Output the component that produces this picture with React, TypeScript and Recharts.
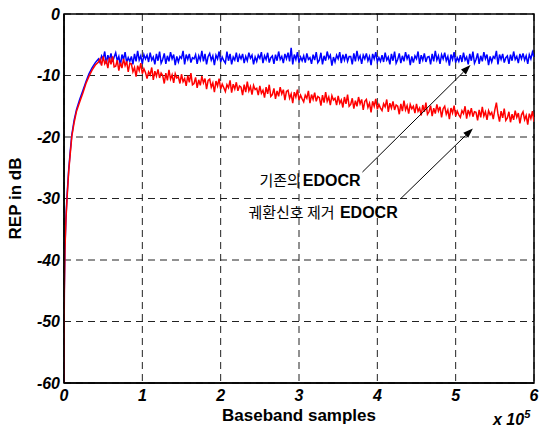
import React from 'react';
import {
    LineChart, Line, XAxis, YAxis, CartesianGrid, ReferenceLine, ReferenceArea, ReferenceDot,
} from 'recharts';

// x positions in units of 1e5 baseband samples
const samples = [
    0, 0.004, 0.012, 0.025, 0.04, 0.06, 0.08, 0.1, 0.13, 0.16, 0.2, 0.24, 0.28, 0.32, 0.36, 0.4, 0.44,
    0.46, 0.48, 0.5, 0.52, 0.54, 0.56, 0.58, 0.6, 0.62, 0.64,
    0.66, 0.68, 0.7, 0.72, 0.74, 0.76, 0.78, 0.8, 0.82, 0.84,
    0.86, 0.88, 0.9, 0.92, 0.94, 0.96, 0.98, 1.0, 1.02, 1.04,
    1.06, 1.08, 1.1, 1.12, 1.14, 1.16, 1.18, 1.2, 1.22, 1.24,
    1.26, 1.28, 1.3, 1.32, 1.34, 1.36, 1.38, 1.4, 1.42, 1.44,
    1.46, 1.48, 1.5, 1.52, 1.54, 1.56, 1.58, 1.6, 1.62, 1.64,
    1.66, 1.68, 1.7, 1.72, 1.74, 1.76, 1.78, 1.8, 1.82, 1.84,
    1.86, 1.88, 1.9, 1.92, 1.94, 1.96, 1.98, 2.0, 2.02, 2.04,
    2.06, 2.08, 2.1, 2.12, 2.14, 2.16, 2.18, 2.2, 2.22, 2.24,
    2.26, 2.28, 2.3, 2.32, 2.34, 2.36, 2.38, 2.4, 2.42, 2.44,
    2.46, 2.48, 2.5, 2.52, 2.54, 2.56, 2.58, 2.6, 2.62, 2.64,
    2.66, 2.68, 2.7, 2.72, 2.74, 2.76, 2.78, 2.8, 2.82, 2.84,
    2.86, 2.88, 2.9, 2.92, 2.94, 2.96, 2.98, 3.0, 3.02, 3.04,
    3.06, 3.08, 3.1, 3.12, 3.14, 3.16, 3.18, 3.2, 3.22, 3.24,
    3.26, 3.28, 3.3, 3.32, 3.34, 3.36, 3.38, 3.4, 3.42, 3.44,
    3.46, 3.48, 3.5, 3.52, 3.54, 3.56, 3.58, 3.6, 3.62, 3.64,
    3.66, 3.68, 3.7, 3.72, 3.74, 3.76, 3.78, 3.8, 3.82, 3.84,
    3.86, 3.88, 3.9, 3.92, 3.94, 3.96, 3.98, 4.0, 4.02, 4.04,
    4.06, 4.08, 4.1, 4.12, 4.14, 4.16, 4.18, 4.2, 4.22, 4.24,
    4.26, 4.28, 4.3, 4.32, 4.34, 4.36, 4.38, 4.4, 4.42, 4.44,
    4.46, 4.48, 4.5, 4.52, 4.54, 4.56, 4.58, 4.6, 4.62, 4.64,
    4.66, 4.68, 4.7, 4.72, 4.74, 4.76, 4.78, 4.8, 4.82, 4.84,
    4.86, 4.88, 4.9, 4.92, 4.94, 4.96, 4.98, 5.0, 5.02, 5.04,
    5.06, 5.08, 5.1, 5.12, 5.14, 5.16, 5.18, 5.2, 5.22, 5.24,
    5.26, 5.28, 5.3, 5.32, 5.34, 5.36, 5.38, 5.4, 5.42, 5.44,
    5.46, 5.48, 5.5, 5.52, 5.54, 5.56, 5.58, 5.6, 5.62, 5.64,
    5.66, 5.68, 5.7, 5.72, 5.74, 5.76, 5.78, 5.8, 5.82, 5.84,
    5.86, 5.88, 5.9, 5.92, 5.94, 5.96, 5.98, 6.0,
];

// 기존의 EDOCR (blue)
const existing = [
    -60, -45, -38, -33, -29.3, -25.3, -22.3, -19.6, -17.2, -15.5, -13.9, -12.5, -11.0, -9.7, -8.7, -7.9, -7.3,
    -7.9, -6.8, -7.3, -6.1, -8.1, -6.7, -7.5, -6.4, -7.8, -7.0,
    -6.3, -7.6, -6.9, -8.4, -6.6, -7.4, -6.2, -7.9, -7.1, -7.7,
    -6.9, -8.2, -6.5, -7.7, -6.0, -7.5, -6.8, -8.1, -6.6, -7.3,
    -6.7, -7.8, -6.3, -7.5, -7.0, -8.2, -6.5, -7.6, -6.1, -8.0,
    -7.4, -6.4, -8.1, -6.8, -7.7, -6.2, -7.3, -6.6, -8.3, -6.9,
    -7.8, -6.9, -7.2, -6.0, -8.2, -6.6, -7.4, -6.5, -7.9, -7.1,
    -7.3, -6.6, -8.1, -6.8, -7.5, -6.0, -7.7, -6.5, -8.2, -6.9,
    -6.4, -7.5, -6.8, -8.3, -6.7, -7.3, -6.1, -7.8, -7.0, -7.6,
    -8.0, -6.1, -7.6, -6.5, -8.2, -7.0, -7.5, -6.3, -7.8, -6.7,
    -7.3, -6.5, -8.0, -6.9, -7.6, -6.3, -7.2, -6.7, -8.2, -7.0,
    -7.7, -6.7, -7.2, -6.2, -8.0, -6.8, -7.4, -6.3, -7.9, -7.1,
    -6.8, -8.1, -6.6, -7.6, -6.1, -7.4, -6.9, -8.0, -6.5, -7.3,
    -6.3, -7.7, -5.5, -8.2, -6.6, -7.4, -6.2, -7.9, -7.0, -7.6,
    -6.8, -7.9, -6.4, -7.4, -7.1, -8.1, -6.6, -7.5, -6.2, -7.9,
    -7.5, -6.3, -8.2, -6.8, -7.6, -6.1, -7.2, -6.7, -8.4, -7.0,
    -7.8, -6.7, -7.3, -6.2, -8.0, -6.6, -7.5, -6.5, -7.7, -6.9,
    -6.9, -8.2, -6.4, -7.7, -6.0, -7.4, -6.8, -8.1, -6.7, -7.3,
    -6.4, -7.6, -6.9, -8.3, -6.5, -7.3, -6.2, -7.8, -7.1, -7.7,
    -6.7, -7.8, -6.3, -7.5, -7.0, -8.2, -6.5, -7.6, -6.1, -8.0,
    -7.4, -6.4, -8.0, -6.8, -7.7, -6.2, -7.3, -6.6, -8.3, -6.9,
    -7.9, -6.8, -7.3, -6.1, -8.1, -6.7, -7.5, -6.4, -7.8, -7.0,
    -6.9, -8.2, -6.5, -7.7, -6.0, -7.5, -6.8, -8.1, -6.6, -7.3,
    -6.3, -7.6, -6.9, -8.4, -6.6, -7.4, -6.2, -7.9, -7.1, -7.7,
    -6.7, -7.8, -6.3, -7.5, -7.0, -8.2, -6.5, -7.6, -6.1, -8.0,
    -7.4, -6.4, -8.1, -6.8, -7.7, -6.2, -7.3, -6.6, -8.3, -6.9,
    -7.8, -6.9, -7.2, -6.0, -8.2, -6.6, -7.4, -6.5, -7.9, -7.1,
    -6.8, -8.1, -6.6, -7.6, -6.1, -7.4, -6.9, -8.0, -6.5, -7.3,
    -6.4, -7.5, -6.8, -8.1, -6.6, -7.3, -6.2, -7.0,
];

// 궤환신호 제거 EDOCR (red)
const removed = [
    -60, -45.5, -38.5, -33.4, -29.8, -25.6, -22.7, -19.9, -17.6, -15.8, -14.3, -12.9, -11.3, -10.1, -9.1, -8.3, -7.8,
    -7.3, -8.4, -6.9, -8.1, -7.6, -8.8, -7.1, -8.2, -6.9, -8.6,
    -8.5, -7.5, -9.2, -7.9, -8.8, -7.3, -8.4, -7.7, -9.4, -8.0,
    -8.1, -9.4, -8.7, -10.2, -8.4, -9.2, -8.0, -9.7, -8.9, -9.5,
    -10.5, -9.4, -9.9, -8.7, -10.7, -9.3, -10.1, -9.0, -10.4, -9.6,
    -10.0, -11.3, -9.6, -10.8, -9.1, -10.6, -9.9, -11.2, -9.7, -10.4,
    -10.2, -11.3, -9.8, -11.0, -10.5, -11.7, -10.0, -11.1, -9.6, -11.5,
    -11.3, -10.3, -12.0, -10.7, -11.6, -10.1, -11.2, -10.5, -12.2, -10.8,
    -10.6, -11.9, -11.2, -12.7, -10.9, -11.7, -10.5, -12.2, -11.4, -12.0,
    -12.6, -11.5, -12.0, -10.8, -12.8, -11.4, -12.2, -11.1, -12.5, -11.7,
    -11.9, -13.2, -11.5, -12.7, -11.0, -12.5, -11.8, -13.1, -11.6, -12.3,
    -12.1, -13.2, -11.7, -12.9, -12.4, -13.6, -11.9, -13.0, -11.5, -13.4,
    -13.1, -12.1, -13.8, -12.5, -13.4, -11.9, -13.0, -12.3, -14.0, -12.6,
    -12.4, -13.7, -13.0, -14.5, -12.7, -13.5, -12.3, -14.0, -13.2, -13.8,
    -14.3, -13.2, -13.7, -12.5, -14.5, -13.1, -13.9, -12.8, -14.2, -13.4,
    -13.6, -14.9, -13.2, -14.4, -12.7, -14.2, -13.5, -14.8, -13.3, -14.0,
    -13.7, -14.8, -13.3, -14.5, -14.0, -15.2, -13.5, -14.6, -13.1, -15.0,
    -14.7, -13.7, -15.4, -14.1, -15.0, -13.5, -14.6, -13.9, -15.6, -14.2,
    -13.9, -15.2, -14.5, -16.0, -14.2, -15.0, -13.8, -15.5, -14.7, -15.3,
    -15.7, -14.6, -15.1, -13.9, -15.9, -14.5, -15.3, -14.2, -15.6, -14.8,
    -15.0, -16.3, -14.6, -15.8, -14.1, -15.6, -14.9, -16.2, -14.7, -15.4,
    -15.0, -16.1, -14.6, -15.8, -15.3, -16.5, -14.8, -15.9, -14.4, -16.3,
    -15.9, -14.9, -16.6, -15.3, -16.2, -14.7, -15.8, -15.1, -16.8, -15.4,
    -15.0, -16.3, -15.6, -17.1, -15.3, -16.1, -14.9, -16.6, -15.8, -16.4,
    -16.8, -15.7, -16.2, -15.0, -17.0, -15.6, -16.4, -15.3, -16.7, -15.9,
    -16.0, -17.3, -15.6, -16.8, -15.1, -16.6, -15.9, -17.2, -15.7, -16.4,
    -16.0, -17.1, -15.6, -14.4, -16.3, -17.5, -15.8, -16.9, -15.4, -17.3,
    -16.9, -15.9, -17.6, -16.3, -17.2, -15.7, -16.8, -16.1, -17.8, -16.4,
    -15.9, -17.2, -16.5, -18.0, -16.2, -17.0, -15.8, -17.5,
];

const xTicks = [0, 1, 2, 3, 4, 5, 6];
const yTicks = [-60, -50, -40, -30, -20, -10, 0];

const data = samples.map((x, i) => ({ x, existing: existing[i], removed: removed[i] }));

const FONT = '"Liberation Sans", Arial, sans-serif';
const KFONT = '"Noto Sans CJK KR", "Liberation Sans", sans-serif';

const tickStyle = { fontSize: 16, fontWeight: 700, fontStyle: 'italic', fill: '#000', fontFamily: FONT };

const arrowShape = (props: any) => {
    const { x1, y1, x2, y2 } = props;
    const ang = Math.atan2(y2 - y1, x2 - x1);
    const len = 10, half = 3.5;
    const bx = x2 - len * Math.cos(ang), by = y2 - len * Math.sin(ang);
    const p1 = `${bx + half * Math.sin(ang)},${by - half * Math.cos(ang)}`;
    const p2 = `${bx - half * Math.sin(ang)},${by + half * Math.cos(ang)}`;
    return (
        <g>
            <line x1={x1} y1={y1} x2={bx} y2={by} stroke="#000" strokeWidth={1} />
            <polygon points={`${x2},${y2} ${p1} ${p2}`} fill="#000" />
        </g>
    );
};

const noteLabel = (korean: string) => (props: any) => {
    const { viewBox } = props;
    return (
        <text x={viewBox.x} y={viewBox.y} textAnchor="end" fill="#000">
            <tspan fontFamily={KFONT} fontSize={15}>{korean}</tspan>
            <tspan fontFamily={FONT} fontSize={16} fontWeight={700} dx={2}>EDOCR</tspan>
        </text>
    );
};

const App: React.FC = () => (
    <div style={{ position: 'absolute', left: 0, top: 0, width: 539, height: 430, background: '#fff' }}>
        <LineChart width={539} height={430} data={data} margin={{ top: 14, right: 5, left: 0, bottom: 0 }}>
            <CartesianGrid stroke="#222" strokeDasharray="7 5" />
            <XAxis
                dataKey="x" type="number" domain={[0, 6]} ticks={xTicks} allowDataOverflow
                height={47} tickSize={0} tickMargin={7} tick={tickStyle}
                axisLine={{ stroke: '#000', strokeWidth: 1.5 }}
                label={{ value: 'Baseband samples', position: 'insideBottom', offset: 9, fontSize: 17, fontWeight: 700, fill: '#000', fontFamily: FONT }}
            />
            <YAxis
                type="number" domain={[-60, 0]} ticks={yTicks} allowDataOverflow
                width={64} tickSize={0} tickMargin={4} tick={tickStyle}
                axisLine={{ stroke: '#000', strokeWidth: 1.5 }}
                label={{ value: 'REP in dB', angle: -90, position: 'insideLeft', offset: 15, fontSize: 17, fontWeight: 700, fill: '#000', fontFamily: FONT, style: { textAnchor: 'middle' } }}
            />
            <ReferenceArea x1={0} x2={6} y1={-60} y2={0} fill="none" fillOpacity={0} stroke="#000" strokeWidth={1.5} />
            <Line dataKey="existing" stroke="#0000ff" strokeWidth={1.5} dot={false} isAnimationActive={false} />
            <Line dataKey="removed" stroke="#ff0000" strokeWidth={1.5} dot={false} isAnimationActive={false} />
            <ReferenceLine segment={[{ x: 3.81, y: -25.7 }, { x: 5.19, y: -8.3 }]} shape={arrowShape} />
            <ReferenceLine segment={[{ x: 4.3, y: -30.0 }, { x: 5.22, y: -18.6 }]} shape={arrowShape} />
            <ReferenceDot x={3.787} y={-28.0} r={0} fill="none" stroke="none" label={{ content: noteLabel('기존의') }} />
            <ReferenceDot x={4.26} y={-33.1} r={0} fill="none" stroke="none" label={{ content: noteLabel('궤환신호 제거 ') }} />
        </LineChart>
        <div style={{ position: 'absolute', left: 493, top: 411, fontFamily: FONT, fontSize: 16, fontWeight: 700, fontStyle: 'italic', color: '#000', whiteSpace: 'nowrap' }}>
            x 10<sup style={{ fontSize: 11, verticalAlign: 'top', position: 'relative', top: -3 }}>5</sup>
        </div>
    </div>
);

export default App;
